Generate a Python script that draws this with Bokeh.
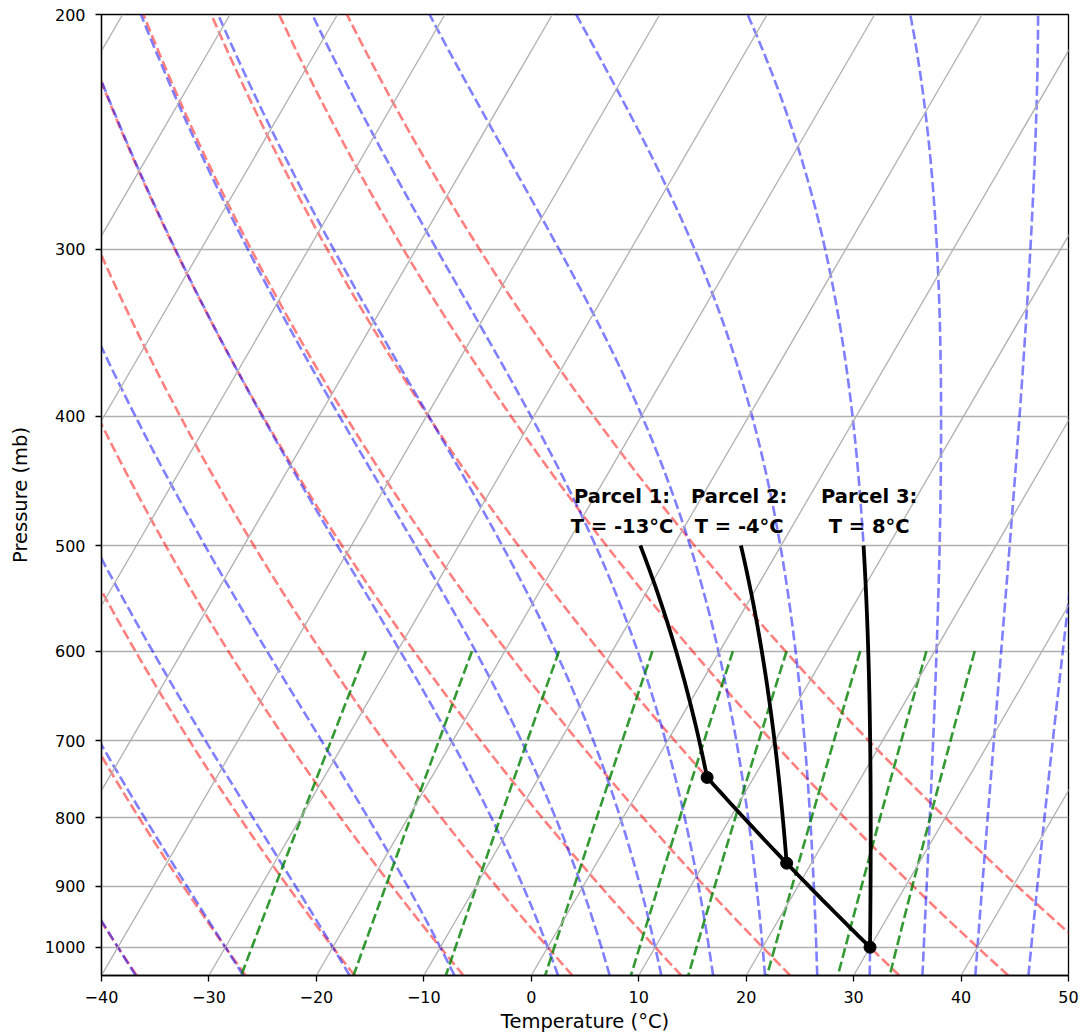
import numpy as np
from bokeh.plotting import figure
from bokeh.models import Range1d, FixedTicker, ColumnDataSource, NumeralTickFormatter
from bokeh.embed import file_html
from bokeh.resources import INLINE
from bokeh.core.properties import value

# ---------------- data ----------------
x_ticks = [-40, -30, -20, -10, 0, 10, 20, 30, 40, 50]
p_ticks = [1000, 900, 800, 700, 600, 500, 400, 300, 200]
isotherm_T = [-100, -90, -80, -70, -60, -50, -40, -30, -20, -10, 0, 10, 20, 30, 40, 50]
dry_adiabat_T0 = [-40, -30, -20, -10, 0, 10, 20, 30, 40, 50]          # degC at 1000 mb
moist_adiabat_T0 = [-40, -30, -20, -10, 0, 5, 10, 15, 20, 25, 30, 35, 40, 45, 50]  # degC at 1000 mb
mixing_ratios = [0.0004, 0.001, 0.002, 0.004, 0.007, 0.01, 0.016, 0.024, 0.032]    # kg/kg
surface_p = 1000.0
surface_T = 30.0                      # degC, parcel 3 start
parcel_start_p = [746.0, 865.0, 1000.0]
parcel_top_p = 500.0
parcel_names = ["Parcel 1:", "Parcel 2:", "Parcel 3:"]
parcel_T500 = ["T = -13°C", "T = -4°C", "T = 8°C"]
label_T = [-14.8, -3.9, 8.2]          # label centres (degC at 500 mb)

# ---------------- thermodynamics ----------------
Rd, Cp, Lv, EPS = 287.04749, 1004.6662, 2.50084e6, 0.6219569
KAPPA = Rd / Cp
P_BOT, P_TOP = 1050.0, 200.0
X_MIN, X_MAX = -40.0, 50.0
SKEW = np.tan(np.radians(30.0)) * (X_MAX - X_MIN)


def skew_x(T, p):
    return np.asarray(T) + SKEW * np.log(P_BOT / np.asarray(p)) / np.log(P_BOT / P_TOP)


def sat_vp(tc):
    return 6.112 * np.exp(17.67 * tc / (tc + 243.5))


def dtdp(p, tk):
    es = sat_vp(tk - 273.15)
    rs = EPS * es / (p - es)
    frac = (Rd * tk + Lv * rs) / (Cp + Lv * Lv * rs * EPS / (Rd * tk ** 2))
    return frac / p


def moist_lapse(t0_c, p0, pressures):
    t0 = np.atleast_1d(np.asarray(t0_c, float)) + 273.15
    pressures = np.asarray(pressures, float)
    res = np.empty((t0.size, pressures.size))
    for direction in (1, -1):
        idx = [i for i, pp in enumerate(pressures) if (pp - p0) * direction >= 0]
        idx.sort(key=lambda i: abs(pressures[i] - p0))
        T = t0.copy()
        pc = p0
        for i in idx:
            pt = pressures[i]
            n = max(1, int(np.ceil(abs(pt - pc) / 2.0)))
            h = (pt - pc) / n
            for _ in range(n):
                k1 = dtdp(pc, T)
                k2 = dtdp(pc + h / 2, T + h / 2 * k1)
                k3 = dtdp(pc + h / 2, T + h / 2 * k2)
                k4 = dtdp(pc + h, T + h * k3)
                T = T + h / 6 * (k1 + 2 * k2 + 2 * k3 + k4)
                pc = pc + h
            res[:, i] = T
    return res - 273.15


def dry_lapse(t0_c, p0, pressures):
    return (np.asarray(t0_c, float)[:, None] + 273.15) * (np.asarray(pressures)[None, :] / p0) ** KAPPA - 273.15


def dewpoint_from_w(w, p):
    e = p * w / (EPS + w)
    val = np.log(e / 6.112)
    return 243.5 * val / (17.67 - val)


# ---------------- figure ----------------
FONT = "DejaVu Sans"
LW = 2.6
DASH = "10 4"
p = figure(frame_width=967, frame_height=961,
           x_range=Range1d(X_MIN, X_MAX), y_range=Range1d(P_BOT, P_TOP),
           y_axis_type="log", output_backend="svg", toolbar_location=None,
           min_border_left=101, min_border_top=14, min_border_right=12, min_border_bottom=59)
p.background_fill_color = "white"
p.border_fill_color = "white"
p.outline_line_color = "black"
p.outline_line_width = 1.3

pres = np.linspace(P_BOT, P_TOP, 120)

# dry adiabats
dry = dry_lapse(dry_adiabat_T0, 1000.0, pres)
p.multi_line(xs=[list(skew_x(t, pres)) for t in dry], ys=[list(pres)] * len(dry),
             line_color="red", line_alpha=0.5, line_width=LW, line_dash=DASH)

# moist adiabats
moist = moist_lapse(moist_adiabat_T0, 1000.0, pres)
p.multi_line(xs=[list(skew_x(t, pres)) for t in moist], ys=[list(pres)] * len(moist),
             line_color="blue", line_alpha=0.5, line_width=LW, line_dash=DASH)

# mixing ratio lines
pmix = np.linspace(600.0, P_BOT, 60)
mxs = [list(skew_x(dewpoint_from_w(w, pmix), pmix)) for w in mixing_ratios]
p.multi_line(xs=mxs, ys=[list(pmix)] * len(mxs),
             line_color="green", line_alpha=0.8, line_width=LW, line_dash=DASH)

# isotherms (skewed grid)
iso_x0 = [skew_x(t, P_BOT) for t in isotherm_T]
iso_x1 = [skew_x(t, P_TOP) for t in isotherm_T]
p.segment(x0=iso_x0, y0=[P_BOT] * len(isotherm_T), x1=iso_x1, y1=[P_TOP] * len(isotherm_T),
          line_color="#b0b0b0", line_width=1.3)

# parcel paths
start_T = dry_lapse([surface_T], surface_p, parcel_start_p)[0]
pdry = np.linspace(surface_p, min(parcel_start_p), 40)
tdry = dry_lapse([surface_T], surface_p, pdry)[0]
p.line(skew_x(tdry, pdry), pdry, line_color="black", line_width=3.8)
for ps, ts in zip(parcel_start_p, start_T):
    pm = np.linspace(ps, parcel_top_p, 60)
    tm = moist_lapse([ts], ps, pm)[0]
    p.line(skew_x(tm, pm), pm, line_color="black", line_width=3.8)
p.scatter(skew_x(start_T, parcel_start_p), parcel_start_p, size=12,
          fill_color="black", line_color="black")

# labels
LINE1_P, LINE2_P = 459.4, 483.9
src1 = ColumnDataSource(dict(x=skew_x(label_T, [parcel_top_p] * 3), y=[LINE1_P] * 3, t=parcel_names))
src2 = ColumnDataSource(dict(x=skew_x(label_T, [parcel_top_p] * 3), y=[LINE2_P] * 3, t=parcel_T500))
for src in (src1, src2):
    p.text(x="x", y="y", text="t", source=src, text_font=value(FONT), text_font_style="bold",
           text_font_size="19.5px", text_align="center", text_baseline="alphabetic", text_color="black")

# axes
p.xgrid.visible = False
p.ygrid.ticker = FixedTicker(ticks=p_ticks)
p.ygrid.grid_line_color = "#b0b0b0"
p.ygrid.grid_line_width = 1.3

p.xaxis.ticker = FixedTicker(ticks=x_ticks)
p.xaxis.major_label_overrides = {t: (str(t).replace("-", "\u2212")) for t in x_ticks}
p.yaxis.ticker = FixedTicker(ticks=p_ticks)
p.yaxis.formatter = NumeralTickFormatter(format="0")
p.yaxis.major_label_overrides = {t: str(t) for t in p_ticks}

for ax in (p.xaxis, p.yaxis):
    ax.axis_line_color = "black"
    ax.axis_line_width = 1.3
    ax.major_tick_line_color = "black"
    ax.major_tick_line_width = 1.3
    ax.major_tick_out = 6
    ax.major_tick_in = 0
    ax.minor_tick_line_color = None
    ax.major_label_text_font = FONT
    ax.major_label_text_font_size = "16px"
    ax.major_label_text_color = "black"
    ax.axis_label_text_font = FONT
    ax.axis_label_text_font_size = "19.5px"
    ax.axis_label_text_font_style = "normal"
    ax.axis_label_text_color = "black"

p.xaxis.axis_label = "Temperature (°C)"
p.yaxis.axis_label = "Pressure (mb)"
p.xaxis.major_label_standoff = 9
p.xaxis.axis_label_standoff = 4
p.yaxis.major_label_standoff = 10
p.yaxis.axis_label_standoff = 10

open("out.html", "w").write(file_html(p, INLINE))
